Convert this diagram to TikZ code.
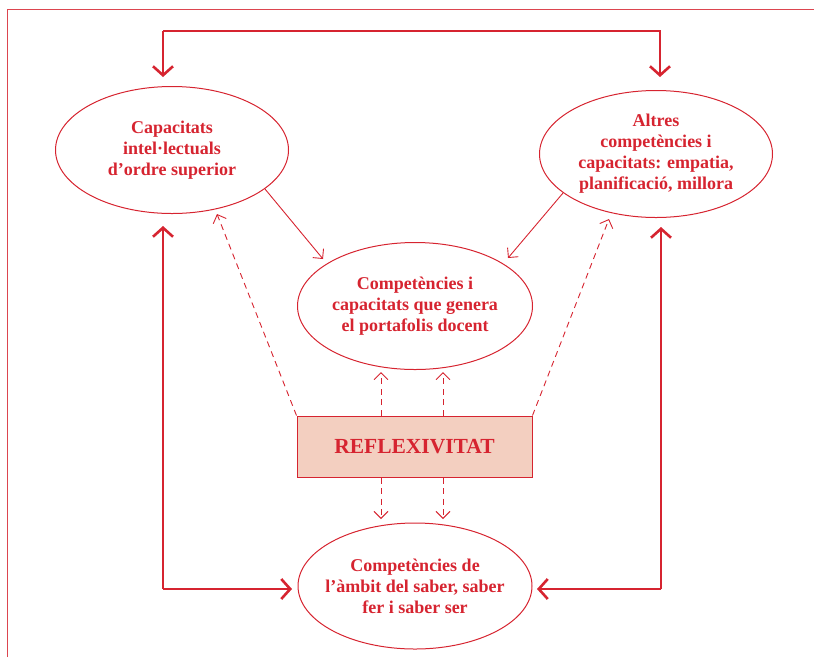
\documentclass[tikz,border=0pt]{standalone}
\usepackage{fontspec}
\setmainfont{Liberation Serif}
\usetikzlibrary{shapes.geometric,arrows.meta}
\definecolor{dred}{RGB}{214,36,48}
\definecolor{pinkfill}{RGB}{243,207,192}
\tikzset{
  oval/.style={ellipse,draw=dred,line width=1pt,inner xsep=-30pt,inner ysep=-12pt,text=dred,
    font=\bfseries\fontsize{18}{21}\selectfont,align=center},
  thick arrow/.style={draw=dred,line width=2.8pt,
    -{Straight Barb[length=9pt,width=20pt,line width=2.6pt]}},
  thin arrow/.style={draw=dred,line width=0.9pt,
    -{Straight Barb[length=7pt,width=14pt]}},
  dash arrow/.style={draw=dred,line width=0.9pt,dash pattern=on 6pt off 4.5pt,
    -{Straight Barb[length=7pt,width=14pt]}},
}
\begin{document}
\begin{tikzpicture}[x=1pt,y=-1pt]
\useasboundingbox (0,0) rectangle (814,657);
% frame
\coordinate (f1) at (7.5,657);
\coordinate (f2) at (7.5,9.5);
\coordinate (f3) at (814,9.5);
\draw[dred!85,line width=1.6pt] (f1) -- (f2) -- (f3);

% nodes
\node[oval,minimum width=233pt,minimum height=127pt] (A) at (172,150)
  {Capacitats\\intel·lectuals\\d’ordre superior};
\node[oval,minimum width=233pt,minimum height=127pt] (B) at (656,154)
  {Altres\\competències i\\capacitats: empatia,\\planificació, millora};
\node[oval,minimum width=235pt,minimum height=127pt] (C) at (415,306)
  {Competències i\\capacitats que genera\\el portafolis docent};
\node[oval,minimum width=234pt,minimum height=126pt] (D) at (415,586)
  {Competències de\\l’àmbit del saber, saber\\fer i saber ser};
\node[draw=dred,line width=1pt,fill=pinkfill,minimum width=235pt,minimum height=61pt,
  inner sep=0pt,text=dred,font=\bfseries\fontsize{21.5}{24}\selectfont] (R) at (414.5,446.5)
  {REFLEXIVITAT};

% top connector
\coordinate (tA) at (163,77);
\coordinate (tB) at (660,77);
\draw[thick arrow] (163,31) -- (tA);
\draw[thick arrow] (163,31) -- (660,31) -- (tB);

% side loops
\coordinate (lA) at (163,226);
\coordinate (lD) at (292,589);
\coordinate (rB) at (661,227);
\coordinate (rD) at (537,589);
\coordinate (lc) at (163,589);
\coordinate (rc) at (661,589);
\draw[thick arrow] (lc) -- (lA);
\draw[thick arrow] (lA |- lD) -- (lD);
\draw[thick arrow] (rc) -- (rB);
\draw[thick arrow] (rc) -- (rD);

% thin solid arrows
\coordinate (a1) at (265,189);
\coordinate (c1) at (323,259);
\coordinate (b1) at (563,193);
\coordinate (c2) at (508,258);
\draw[thin arrow] (a1) -- (c1);
\draw[thin arrow] (b1) -- (c2);

% dashed arrows
\coordinate (aT) at (217,214);
\coordinate (bT) at (609,219);
\draw[dash arrow] (R.north west) -- (aT);
\draw[dash arrow] (R.north east) -- (bT);
\coordinate (u1) at (381,372);
\coordinate (u2) at (443,372);
\coordinate (d1) at (381,519);
\coordinate (d2) at (443,519);
\draw[dash arrow] (R.north -| u1) -- (u1);
\draw[dash arrow] (R.north -| u2) -- (u2);
\draw[dash arrow] (R.south -| d1) -- (d1);
\draw[dash arrow] (R.south -| d2) -- (d2);
\end{tikzpicture}
\end{document}
